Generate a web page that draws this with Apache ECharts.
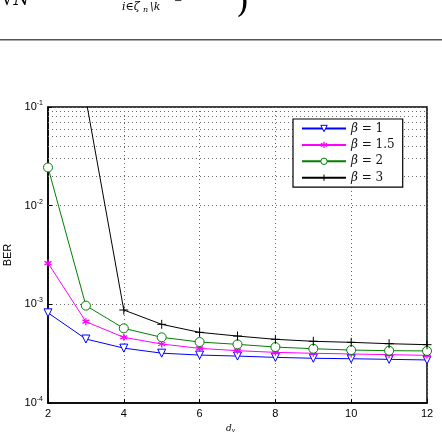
<!DOCTYPE html>
<html><head><meta charset="utf-8">
<script src="https://cdn.jsdelivr.net/npm/echarts@6/dist/echarts.min.js"></script>
<style>html,body{margin:0;padding:0;background:#fff}#c{width:442px;height:432px}</style>
</head><body><div id="c"></div>
<script>
const dv = [2,3,4,5,6,7,8,9,10,11,12];
const ber_b1  = [8.2e-4,4.45e-4,3.6e-4,3.2e-4,3.06e-4,2.99e-4,2.9e-4,2.84e-4,2.81e-4,2.77e-4,2.73e-4];
const ber_b15 = [2.62e-3,6.67e-4,4.63e-4,3.96e-4,3.58e-4,3.39e-4,3.26e-4,3.19e-4,3.14e-4,3.09e-4,3.04e-4];
const ber_b2  = [2.44e-2,9.7e-4,5.71e-4,4.63e-4,4.15e-4,3.93e-4,3.69e-4,3.55e-4,3.44e-4,3.39e-4,3.37e-4];
const ber_b3  = [0.45,0.12,8.76e-4,6.27e-4,5.2e-4,4.77e-4,4.42e-4,4.22e-4,4.12e-4,3.99e-4,3.9e-4];
const names = ['β = 1','β = 1.5','β = 2','β = 3'];
const colors = ['#0000ff','#ff00ff','#008000','#000000'];

const minorGrid = [];
[-4,-3,-2].forEach(e=>{for(let k=2;k<=9;k++) minorGrid.push(k*Math.pow(10,e));});

const chart = echarts.init(document.getElementById('c'));
const pair = a => dv.map((x,i)=>[x,a[i]]);
const starPath = 'path://M0,-5L0,5M-4.33,-2.5L4.33,2.5M-4.33,2.5L4.33,-2.5';
const plusPath = 'path://M-5,0L5,0M0,-5L0,5';
const itemStyles = [
  {color:'#fff', borderColor:colors[0], borderWidth:1},
  {color:colors[1], borderColor:colors[1], borderWidth:1.3},
  {color:'#fff', borderColor:colors[2], borderWidth:1},
  {color:'#000', borderColor:'#000', borderWidth:1}
];
function ser(i, data, symbol, size, extra){
  return Object.assign({
    name:names[i], type:'line', data: pair(data), symbol, symbolSize:size,
    lineStyle:{color:colors[i], width:1}, itemStyle:itemStyles[i],
    clip:true, z:5, animation:false
  }, extra||{});
}
const series = [
  ser(0, ber_b1, 'triangle', 8, {symbolRotate:180}),
  ser(1, ber_b15, starPath, 7),
  ser(2, ber_b2, 'circle', 9),
  ser(3, ber_b3, plusPath, 9),
  {type:'line', data:[], silent:true, animation:false, z:1,
   markLine:{silent:true, symbol:'none', label:{show:false}, animation:false,
     lineStyle:{color:'#666', width:1, type:[1,3]},
     data: minorGrid.map(v=>({yAxis:v}))}}
];

chart.setOption({
  animation:false,
  backgroundColor:'#fff',
  grid:{left:48, top:107, right:15, bottom:29, show:true, borderColor:'#000', borderWidth:1.5,
        containLabel:false, outerBoundsMode:'none'},
  xAxis:{type:'value', min:2, max:12, interval:2,
    name:'{d|d}{v|v}', nameLocation:'middle', nameGap:19,
    nameTextStyle:{padding:[0,14,0,0], rich:{d:{fontFamily:'DejaVu Serif', fontStyle:'italic', fontSize:9, color:'#000'},
                         v:{fontFamily:'DejaVu Serif', fontStyle:'italic', fontSize:6, color:'#000', padding:[4,0,0,0]}}},
    axisLine:{show:true, lineStyle:{color:'#000', width:1.5}},
    axisTick:{show:true, inside:true, length:4, lineStyle:{color:'#000'}},
    axisLabel:{fontFamily:'Liberation Sans', fontSize:11, color:'#000', margin:5},
    splitLine:{show:true, lineStyle:{color:'#666', width:1, type:[1,3]}}
  },
  yAxis:{type:'log', logBase:10, min:1e-4, max:1e-1,
    name:'BER', nameLocation:'middle', nameGap:33, nameRotate:90,
    nameTextStyle:{fontFamily:'Liberation Sans', fontSize:11, color:'#000'},
    axisLine:{show:true, lineStyle:{color:'#000', width:1.5}},
    axisTick:{show:true, inside:true, length:4, lineStyle:{color:'#000'}},
    axisLabel:{margin:5, color:'#000',
      formatter: v => '{b|10}{s|' + Math.round(Math.log10(v)) + '}',
      rich:{b:{fontFamily:'Liberation Sans', fontSize:11, color:'#000'},
            s:{fontFamily:'Liberation Sans', fontSize:7, color:'#000', padding:[0,0,8,0]}}},
    splitLine:{show:true, lineStyle:{color:'#666', width:1, type:[1,3]}}
  },
  legend:{data:names.map((n,i)=>({name:n, itemStyle:itemStyles[i]})), z:20,
    orient:'vertical', left:293, top:119, itemWidth:44, itemHeight:8, itemGap:3.4,
    padding:[3,8,3,8], borderColor:'#000', borderWidth:1.2, backgroundColor:'#fff',
    formatter: n => '{i|β}{r|' + n.slice(1) + '}',
    textStyle:{lineHeight:13, rich:{
      i:{fontFamily:'DejaVu Serif', fontStyle:'italic', fontSize:12, color:'#111'},
      r:{fontFamily:'DejaVu Serif', fontSize:12, color:'#111'}}}},
  graphic:[
    {type:'text', left:2, top:-9, style:{text:'√N', font:'italic 18px "DejaVu Serif"', fill:'#000'}},
    {type:'text', left:122, top:2, style:{text:'i∈ζ', font:'italic 11px "DejaVu Serif"', fill:'#000'}},
    {type:'text', left:143, top:6, style:{text:'n', font:'italic 8px "DejaVu Serif"', fill:'#000'}},
    {type:'text', left:150, top:2, style:{text:'\\k', font:'italic 11px "DejaVu Serif"', fill:'#000'}},
    {type:'text', left:174, top:-4, style:{text:'−', font:'10px "DejaVu Serif"', fill:'#000'}},
    {type:'text', left:236, top:-14, style:{text:')', font:'34px "DejaVu Serif"', fill:'#000'}},
    {type:'rect', shape:{x:0, y:39, width:442, height:1.5}, style:{fill:'#555'}}
  ],
  series
});
</script></body></html>
